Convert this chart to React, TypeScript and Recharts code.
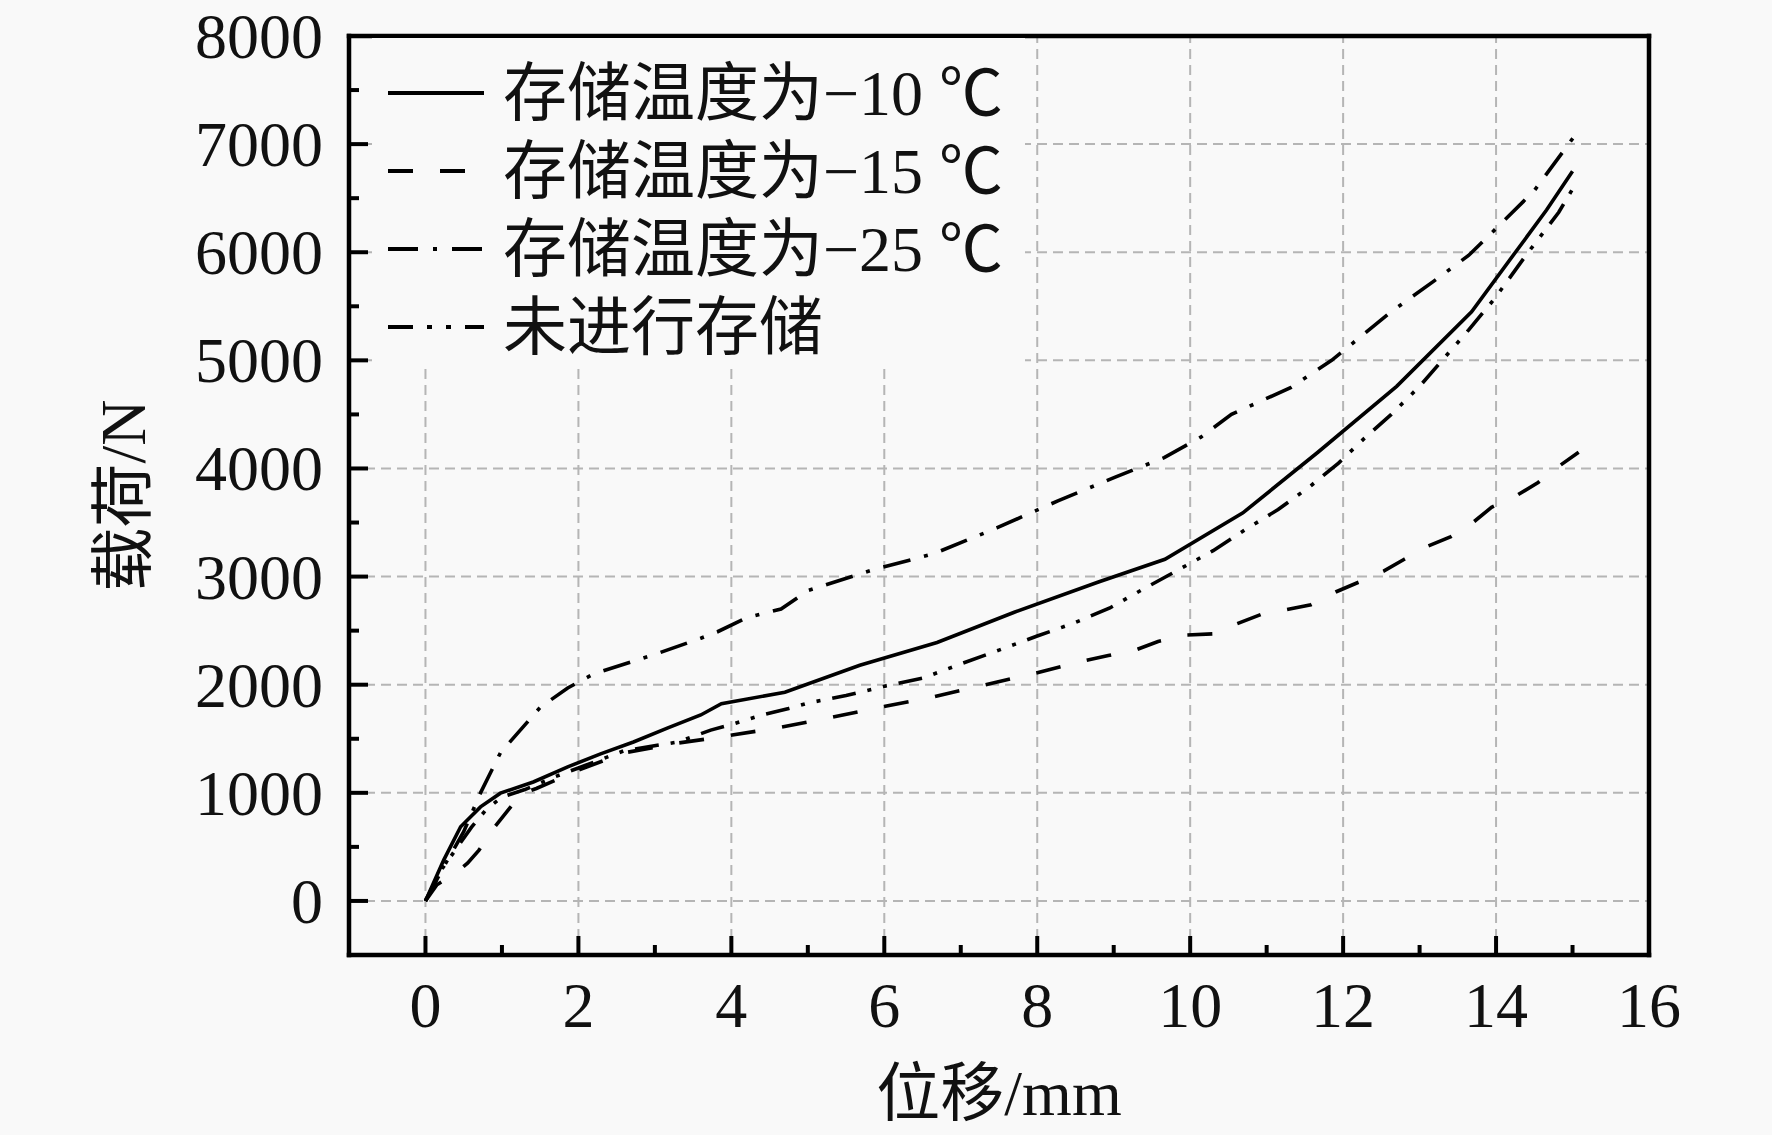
import { LineChart, Line, XAxis, YAxis, ReferenceLine, Legend, Label } from 'recharts'

// 位移 (mm) vs 载荷 (N)
const storedMinus10 = [
  [0, 0], [0.24, 380], [0.46, 686], [0.72, 870], [0.98, 997], [1.41, 1100],
  [1.86, 1240], [2.29, 1360], [2.72, 1470], [3.17, 1600], [3.6, 1720], [3.87, 1825],
  [4.7, 1930], [5.68, 2180], [6.69, 2390], [7.7, 2670], [8.8, 2950], [9.67, 3160],
  [10.69, 3590], [11.67, 4150], [12.7, 4760], [13.68, 5450], [14.66, 6390], [15.0, 6750],
]

const storedMinus15 = [
  [0, 0], [0.15, 150], [0.4, 260], [0.55, 350], [0.7, 470], [0.89, 670], [1.07, 830],
  [1.25, 990], [1.45, 1040], [2.0, 1210], [2.6, 1370], [3.3, 1460], [3.7, 1500],
  [3.97, 1530], [4.6, 1600], [5.26, 1690], [5.94, 1790], [6.6, 1880], [7.26, 1990],
  [7.94, 2100], [8.6, 2220], [8.93, 2270], [9.28, 2320], [9.58, 2400], [9.96, 2460],
  [10.3, 2470], [10.6, 2560], [10.93, 2650], [11.3, 2700], [11.58, 2740], [11.91, 2860],
  [12.21, 2950], [12.53, 3050], [12.8, 3160], [13.1, 3280], [13.41, 3370], [13.68, 3490],
  [13.94, 3640], [14.27, 3750], [14.55, 3870], [14.82, 4020], [15.08, 4150],
]

const storedMinus25 = [
  [0, 0], [0.25, 330], [0.5, 640], [0.72, 1000], [0.98, 1370], [1.5, 1790], [1.86, 1970],
  [2.2, 2100], [3.04, 2290], [3.6, 2430], [3.82, 2490], [4.2, 2620], [4.65, 2700],
  [5.0, 2870], [5.84, 3060], [6.64, 3210], [7.47, 3450], [8.27, 3700], [9.02, 3920],
  [9.66, 4100], [10.14, 4290], [10.54, 4500], [11.32, 4750], [11.85, 5000], [12.63, 5450],
  [13.2, 5740], [13.64, 5970], [14.03, 6240], [14.5, 6570], [15.01, 7060],
]

const notStored = [
  [0, 0], [0.22, 300], [0.37, 450], [0.6, 680], [0.8, 850], [1.0, 960], [1.3, 1030],
  [1.7, 1150], [2.0, 1230], [2.6, 1390], [3.3, 1470], [3.73, 1580], [3.99, 1630],
  [4.4, 1720], [4.75, 1780], [5.0, 1830], [5.5, 1900], [6.03, 1990], [6.5, 2060],
  [7.03, 2200], [7.5, 2320], [8.0, 2450], [8.48, 2570], [8.95, 2710], [9.4, 2890],
  [9.84, 3060], [10.3, 3240], [10.71, 3430], [11.15, 3620], [11.56, 3830], [11.94, 4050],
  [12.28, 4280], [12.63, 4500], [13.0, 4760], [13.32, 5020], [13.64, 5280], [13.98, 5570],
  [14.4, 5980], [14.82, 6370], [15.03, 6620],
]

const xTicks = [0, 1, 2, 3, 4, 5, 6, 7, 8, 9, 10, 11, 12, 13, 14, 15, 16]
const yTicks = [0, 500, 1000, 1500, 2000, 2500, 3000, 3500, 4000, 4500, 5000, 5500, 6000, 6500, 7000, 7500, 8000]
const xGrid = [0, 2, 4, 6, 8, 10, 12, 14]
const yGrid = [0, 1000, 2000, 3000, 4000, 5000, 6000, 7000]

const SERIES = [
  { name: '存储温度为−10 ℃', data: storedMinus10, dash: undefined, legendDash: undefined },
  { name: '存储温度为−15 ℃', data: storedMinus15, dash: '25 27', legendDash: '25 27' },
  { name: '存储温度为−25 ℃', data: storedMinus25, dash: '28 14 4 14', legendDash: '30 15 4 15' },
  { name: '未进行存储', data: notStored, dash: '24 12 4 12 4 12', legendDash: '25 14 5 14 5 14' },
]

const BG = '#f9f9f9'
const FONT = "'Liberation Serif', 'Noto Sans CJK SC', serif"
const FS = 64

const toPoints = (arr: number[][]) => arr.map(([x, y]) => ({ x, y }))

// ticks point inward; only the major ones carry a label
function XTick(props: any) {
  const { x, y, payload } = props
  const major = payload.value % 2 === 0
  return (
    <g>
      <line x1={x} x2={x} y1={y} y2={y - (major ? 19 : 10)} stroke="#000" strokeWidth={4} />
      {major && (
        <text x={x} y={y + 72} textAnchor="middle" fontSize={FS} fontFamily={FONT} fill="#111">
          {payload.value}
        </text>
      )}
    </g>
  )
}

function YTick(props: any) {
  const { x, y, payload } = props
  const major = payload.value % 1000 === 0
  return (
    <g>
      <line x1={x} x2={x + (major ? 19 : 10)} y1={y} y2={y} stroke="#000" strokeWidth={4} />
      {major && (
        <text x={x - 26} y={y + 22} textAnchor="end" fontSize={FS} fontFamily={FONT} fill="#111">
          {payload.value}
        </text>
      )}
    </g>
  )
}

function LegendBox() {
  return (
    <svg width={653} height={328}>
      {SERIES.map((s, i) => {
        const cy = 55 + i * 78
        return (
          <g key={s.name}>
            <line x1={16} x2={112} y1={cy} y2={cy} stroke="#000" strokeWidth={4} strokeDasharray={s.legendDash} />
            <text x={131} y={cy} dominantBaseline="central" fontSize={FS} fontFamily={FONT} fill="#111">
              {s.name}
            </text>
          </g>
        )
      })}
    </svg>
  )
}

const axisLine = { stroke: '#000', strokeWidth: 4.5, strokeLinecap: 'square' as const }

export default function App() {
  return (
    <div style={{ position: 'absolute', left: 0, top: 0, width: 1772, height: 1135, background: BG }}>
      <LineChart width={1772} height={1135} margin={{ top: 0, right: 0, bottom: 0, left: 0 }}>
        {xGrid.map((v) => (
          <ReferenceLine key={'gx' + v} x={v} stroke="#b5b5b5" strokeWidth={2} strokeDasharray="10 6" />
        ))}
        {yGrid.map((v) => (
          <ReferenceLine key={'gy' + v} y={v} stroke="#b5b5b5" strokeWidth={2} strokeDasharray="10 6" />
        ))}
        <XAxis
          type="number"
          dataKey="x"
          domain={[-1, 16]}
          allowDataOverflow
          ticks={xTicks}
          interval={0}
          height={180}
          tickSize={0}
          tickMargin={0}
          tickLine={false}
          axisLine={axisLine}
          tick={<XTick />}
        >
          <Label
            value="位移/mm"
            position="insideTop"
            offset={115}
            style={{ fontSize: FS, fontFamily: FONT, fill: '#111' }}
          />
        </XAxis>
        <XAxis
          xAxisId="top"
          type="number"
          orientation="top"
          domain={[-1, 16]}
          allowDataOverflow
          height={36}
          tick={false}
          tickLine={false}
          axisLine={axisLine}
        />
        <YAxis
          type="number"
          domain={[-500, 8000]}
          allowDataOverflow
          ticks={yTicks}
          interval={0}
          width={349}
          tickSize={0}
          tickMargin={0}
          tickLine={false}
          axisLine={axisLine}
          tick={<YTick />}
        >
          <Label
            value="载荷/N"
            angle={-90}
            position="insideLeft"
            offset={122}
            style={{ fontSize: FS, fontFamily: FONT, fill: '#111', textAnchor: 'middle' }}
          />
        </YAxis>
        <YAxis
          yAxisId="right"
          type="number"
          orientation="right"
          domain={[-500, 8000]}
          allowDataOverflow
          width={123}
          tick={false}
          tickLine={false}
          axisLine={axisLine}
        />
        {SERIES.map((s) => (
          <Line
            key={s.name}
            name={s.name}
            data={toPoints(s.data)}
            dataKey="y"
            type="linear"
            stroke="#000"
            strokeWidth={3.6}
            strokeDasharray={s.dash}
            dot={false}
            activeDot={false}
            isAnimationActive={false}
          />
        ))}
        <Legend
          layout="vertical"
          align="center"
          verticalAlign="middle"
          content={() => <LegendBox />}
          wrapperStyle={{ left: 372, top: 38, width: 653, height: 328, background: BG }}
        />
      </LineChart>
    </div>
  )
}
